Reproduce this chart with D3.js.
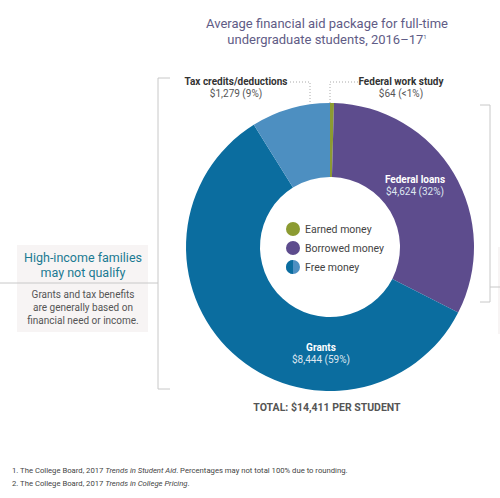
<!DOCTYPE html>
<html>
<head>
<meta charset="utf-8">
<script src="https://cdn.jsdelivr.net/npm/d3@7"></script>
<style>
  body { margin: 0; background: #fff; }
  svg { display: block; font-family: "Roboto", "Liberation Sans", sans-serif; }
</style>
</head>
<body>
<div class="graph"></div>
<script>
const w = 500;
const h = 498;

// data
const slices = ["Federal work study", "Federal loans", "Grants", "Tax credits/deductions"];
const amounts = [64, 4624, 8444, 1279];
const shares = ["<1%", "32%", "59%", "9%"];
const sliceColors = ["#8c9b32", "#5d4c8d", "#0b6d9f", "#4d8fc1"];
const legendLabels = ["Earned money", "Borrowed money", "Free money"];
const titleLines = ["Average financial aid package for full-time", "undergraduate students, 2016–17"];
const totalLabel = "TOTAL: $14,411 PER STUDENT";

const fmt = d3.format(",");

const canvas = d3.select(".graph")
  .append("svg")
  .attr("width", w)
  .attr("height", h);

const cx = 330, cy = 247;
const outerR = 144, innerR = 70;

// title
titleLines.forEach((t, i) => {
  const tt = canvas.append("text")
    .attr("text-anchor", "middle")
    .attr("x", 327).attr("y", 28 + i * 16)
    .attr("fill", "#5f5c86")
    .style("font-size", "13px");
  tt.append("tspan").text(t);
  if (i == 1) tt.append("tspan").attr("dy", -5).style("font-size", "6px").text("1");
});

// brackets
const bracket = canvas.append("g").attr("fill", "none").attr("stroke", "#c8c8c8").attr("stroke-width", 1);
bracket.append("path").attr("d", "M170,78H158V389H170");
bracket.append("path").attr("d", "M480,105H490V302H480");

// side boxes
canvas.append("rect").attr("x", 17).attr("y", 245).attr("width", 131).attr("height", 87).attr("fill", "#f7f4f4");
canvas.append("rect").attr("x", 498).attr("y", 247).attr("width", 10).attr("height", 87).attr("fill", "#f7f4f4");
canvas.append("line").attr("x1", 0).attr("x2", 158).attr("y1", 283).attr("y2", 283).attr("stroke", "#c8c8c8");
canvas.append("line").attr("x1", 490).attr("x2", 500).attr("y1", 287).attr("y2", 287).attr("stroke", "#c8c8c8");

["High-income families", "may not qualify"].forEach((t, i) =>
  canvas.append("text").attr("text-anchor", "middle").attr("fill", "#1b7a92")
    .style("font-size", "12.5px").attr("x", 83).attr("y", 262 + i * 15).text(t));
["Grants and tax benefits", "are generally based on", "financial need or income."].forEach((t, i) =>
  canvas.append("text").attr("text-anchor", "middle").attr("fill", "#555")
    .style("font-size", "10px").attr("x", 83).attr("y", 298 + i * 13).text(t));

// donut
const pie = d3.pie().sort(null).value(d => d.amount);
const arc = d3.arc().innerRadius(innerR).outerRadius(outerR);
const rows = slices.map((s, i) => ({name: s, amount: amounts[i], share: shares[i], color: sliceColors[i]}));
const arcs = pie(rows);

const donut = canvas.append("g").attr("transform", `translate(${cx},${cy})`);
donut.selectAll("path")
  .data(arcs)
  .enter().append("path")
  .attr("d", arc)
  .attr("fill", d => d.data.color);

// labels inside slices (loans, grants)
const inside = [{i: 1, x: 415, y: 183}, {i: 2, x: 321, y: 351}];
inside.forEach(o => {
  const a = arcs[o.i];
  canvas.append("text").attr("text-anchor", "middle").attr("fill", "#fff")
    .style("font-size", "10px").style("font-weight", "bold")
    .attr("x", o.x).attr("y", o.y).text(a.data.name);
  canvas.append("text").attr("text-anchor", "middle").attr("fill", "#dde6f0")
    .style("font-size", "10px")
    .attr("x", o.x).attr("y", o.y + 12).text("$" + fmt(a.data.amount) + " (" + a.data.share + ")");
});

// outside labels with dotted leaders
const outside = [
  {i: 3, x: 236, anchorX: 310, lineStart: 290},
  {i: 0, x: 401, anchorX: 330, lineStart: 358}
];
outside.forEach(o => {
  const a = arcs[o.i];
  canvas.append("text").attr("text-anchor", "middle").attr("fill", "#333")
    .style("font-size", "10px").style("font-weight", "bold")
    .attr("x", o.x).attr("y", 85).text(a.data.name);
  canvas.append("text").attr("text-anchor", "middle").attr("fill", "#555")
    .style("font-size", "10px")
    .attr("x", o.x).attr("y", 97).text("$" + fmt(a.data.amount) + " (" + a.data.share + ")");
  canvas.append("path")
    .attr("d", `M${o.lineStart},82H${o.anchorX}V${cy - outerR}`)
    .attr("fill", "none").attr("stroke", "#aaa").attr("stroke-dasharray", "1,2");
});

// legend in the hole
const legend = canvas.append("g").attr("transform", "translate(293,229)");
const lg = legend.selectAll("g").data(legendLabels).enter().append("g")
  .attr("transform", (d, i) => `translate(0,${i * 19})`);
lg.append("circle").attr("r", 7)
  .attr("fill", (d, i) => i == 0 ? sliceColors[0] : i == 1 ? sliceColors[1] : sliceColors[3]);
lg.filter((d, i) => i == 2).append("path")
  .attr("d", d3.arc().innerRadius(0).outerRadius(7).startAngle(Math.PI).endAngle(2 * Math.PI)())
  .attr("fill", sliceColors[2]);
lg.append("text").attr("x", 12).attr("y", 4).attr("fill", "#444").style("font-size", "10.5px").text(d => d);

// total
canvas.append("text").attr("x", 327).attr("y", 411).attr("text-anchor", "middle")
  .attr("fill", "#555").style("font-size", "10.5px").style("font-weight", "bold").text(totalLabel);

// footnotes
const fn = canvas.append("g").attr("fill", "#444").style("font-size", "7.7px");
const f1 = fn.append("text").attr("x", 12).attr("y", 473);
f1.append("tspan").text("1. The College Board, 2017 ");
f1.append("tspan").style("font-style", "italic").text("Trends in Student Aid");
f1.append("tspan").text(". Percentages may not total 100% due to rounding.");
const f2 = fn.append("text").attr("x", 12).attr("y", 486);
f2.append("tspan").text("2. The College Board, 2017 ");
f2.append("tspan").style("font-style", "italic").text("Trends in College Pricing");
f2.append("tspan").text(".");
</script>
</body>
</html>
